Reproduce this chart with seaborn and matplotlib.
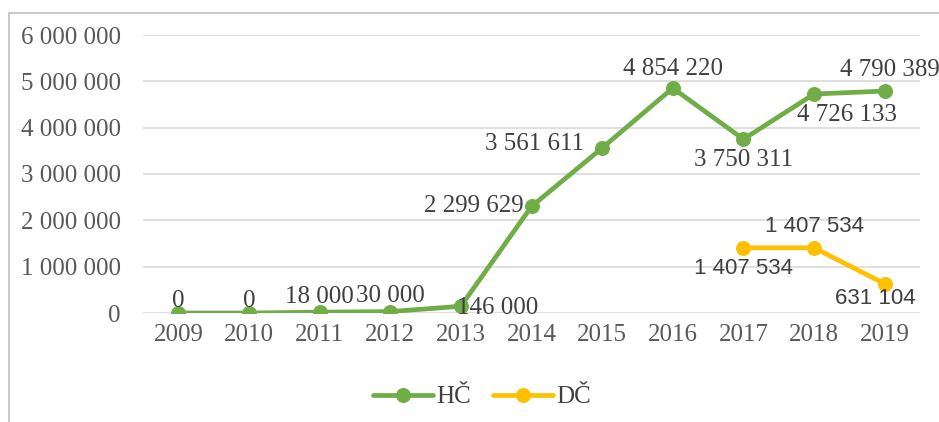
import matplotlib
matplotlib.use("Agg")
import matplotlib.pyplot as plt
import matplotlib.ticker as mticker
from matplotlib.patches import Rectangle
import seaborn as sns
import numpy as np
import pandas as pd

years = [2009, 2010, 2011, 2012, 2013, 2014, 2015, 2016, 2017, 2018, 2019]
hc_values = [0, 0, 18000, 30000, 146000, 2299629, 3561611, 4854220, 3750311, 4726133, 4790389]
dc_years = [2017, 2018, 2019]
dc_values = [1407534, 1407534, 631104]
series_names = ["HČ", "DČ"]
yticks = [0, 1000000, 2000000, 3000000, 4000000, 5000000, 6000000]

GREEN = "#70AD47"
YELLOW = "#FFC000"
TXT = "#404040"
TICK = "#595959"

sns.set_theme(style="white")
plt.rcParams["font.family"] = ["Liberation Serif", "DejaVu Serif"]

fig = plt.figure(figsize=(9.39, 4.22), dpi=100)
ax = fig.add_axes([143 / 939, 1 - 313 / 422, (920 - 143) / 939, (313 - 35) / 422])

fig.patches.append(Rectangle((9 / 939, -0.1), 1.2, 1 - 13 / 422 + 0.1, transform=fig.transFigure,
                             fill=False, edgecolor="#bfbfbf", linewidth=1.2, zorder=-1))

df_hc = pd.DataFrame({"x": [years.index(y) for y in years], "v": hc_values})
df_dc = pd.DataFrame({"x": [years.index(y) for y in dc_years], "v": dc_values})

sns.lineplot(data=df_hc, x="x", y="v", ax=ax, color=GREEN, linewidth=3.4, marker="o",
             markersize=10, markeredgecolor=GREEN, label=series_names[0], zorder=3)
sns.lineplot(data=df_dc, x="x", y="v", ax=ax, color=YELLOW, linewidth=3.4, marker="o",
             markersize=10, markeredgecolor=YELLOW, label=series_names[1], zorder=3)

ax.set_xlim(-0.5, len(years) - 0.5)
ax.set_ylim(0, 6000000)
ax.set_yticks(yticks)
ax.yaxis.set_major_formatter(mticker.FuncFormatter(lambda v, p: f"{int(v):,}".replace(",", " ")))
ax.set_xticks(range(len(years)))
ax.set_xticklabels([str(y) for y in years])
ax.tick_params(axis="both", length=0, labelsize=18, labelcolor=TICK)
ax.tick_params(axis="y", pad=16)
ax.tick_params(axis="x", pad=8)
ax.set_xlabel("")
ax.set_ylabel("")
ax.grid(axis="y", color="#d9d9d9", linewidth=1.2)
ax.set_axisbelow(True)
for s in ax.spines.values():
    s.set_visible(False)

def fmt(v):
    return f"{int(v):,}".replace(",", " ")

# HČ labels: (dx points, dy points, ha, va)
hc_offsets = [
    (0, 1, "center", "bottom"),
    (0, 1, "center", "bottom"),
    (0, 3, "center", "bottom"),
    (0, 3, "center", "bottom"),
    (-3, -1, "left", "center"),
    (-6, 0, "right", "center"),
    (-13, 3, "right", "center"),
    (0, 6, "center", "bottom"),
    (0, -7, "center", "top"),
    (24, -7, "center", "top"),
    (4, 7, "center", "bottom"),
]
for i, v in enumerate(hc_values):
    dx, dy, ha, va = hc_offsets[i]
    ax.annotate(fmt(v), (i, v), xytext=(dx, dy), textcoords="offset points",
                ha=ha, va=va, fontsize=18, color=TXT, zorder=5)

dc_offsets = [
    (0, -7, "center", "top"),
    (0, 8, "center", "bottom"),
    (-7, -3, "center", "top"),
]
for j, (y, v) in enumerate(zip(dc_years, dc_values)):
    dx, dy, ha, va = dc_offsets[j]
    ax.annotate(fmt(v), (years.index(y), v), xytext=(dx, dy), textcoords="offset points",
                ha=ha, va=va, fontsize=16, color=TXT, zorder=5,
                family=["Liberation Sans", "DejaVu Sans"])

leg = ax.legend(loc="center", bbox_to_anchor=(482 / 939, 1 - 397 / 422), bbox_transform=fig.transFigure,
                ncol=2, frameon=False, fontsize=18, handlelength=2.4, handletextpad=0.1,
                columnspacing=0.9, labelcolor=TXT)

fig.savefig("out.png", dpi=100)
